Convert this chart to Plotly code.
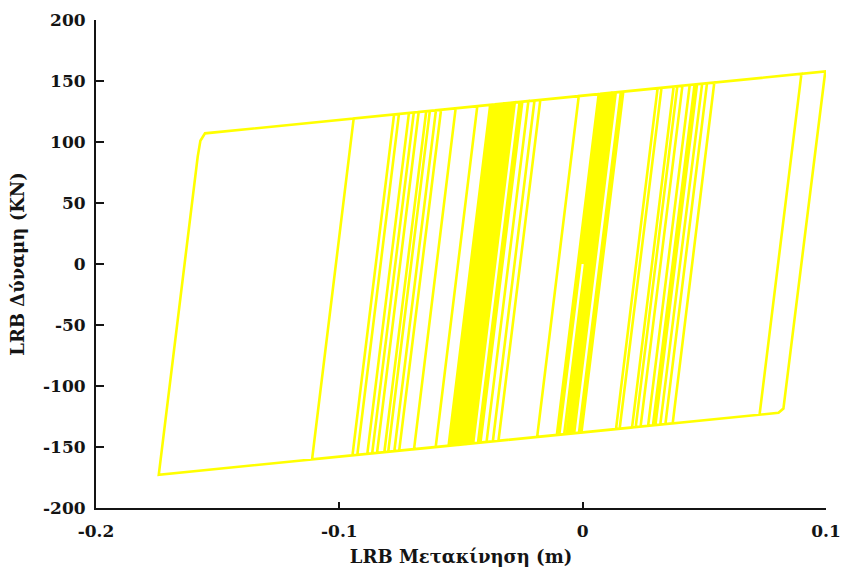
import plotly.graph_objects as go

# Force-displacement path of the lead rubber bearing (turning points and yield knees, in order)
disp_m = [
    0.0, 0.0086,
    0.0126, -0.0045,
    -0.0076, 0.0096,
    0.0157, -0.0015,
    -0.0106, 0.0066,
    0.0116, -0.0055,
    -0.0096, 0.0076,
    0.0308, 0.0137,
    -0.0187, -0.0016,
    0.0541, 0.0370,
    -0.0065, 0.0106,
    0.0997, 0.0834, 0.0825, 0.0805,
    -0.1742, -0.1582, -0.1571, -0.1552,
    0.0899, 0.0727,
    -0.1112, -0.0941,
    0.0491, 0.0319,
    -0.0946, -0.0775,
    0.0440, 0.0269,
    -0.0885, -0.0714,
    0.0470, 0.0299,
    -0.0926, -0.0755,
    0.0410, 0.0238,
    -0.0815, -0.0643,
    0.0374, 0.0203,
    -0.0774, -0.0603,
    0.0511, 0.0340,
    -0.0865, -0.0694,
    0.0389, 0.0218,
    -0.0845, -0.0674,
    0.0324, 0.0152,
    -0.0754, -0.0582,
    0.0460, 0.0289,
    -0.0799, -0.0628,
    0.0167, -0.0005,
    -0.0693, -0.0522,
    0.0136, -0.0035,
    -0.0604, -0.0433,
    -0.0174, -0.0346,
    -0.0551, -0.0380,
    -0.0198, -0.0369,
    -0.0536, -0.0365,
    -0.0223, -0.0395,
    -0.0521, -0.0350,
    -0.0248, -0.0420,
    -0.0506, -0.0334,
    -0.0259, -0.0430,
    -0.0491, -0.0319,
    -0.0279, -0.0450,
    -0.0475, -0.0304,
    -0.0289, -0.0460,
    -0.0543, -0.0372,
    -0.0296, -0.0467,
    -0.0528, -0.0357,
    -0.0311, -0.0483,
    -0.0513, -0.0342,
    -0.0326, -0.0498,
]

force_kn = [
    0.0, 139.7,
    140.5, -138.9,
    -139.5, 139.9,
    141.1, -138.3,
    -140.1, 139.3,
    140.3, -139.1,
    -139.9, 139.5,
    144.1, -135.3,
    -141.7, 137.7,
    148.8, -130.6,
    -139.3, 140.1,
    157.8, -108.0, -118.5, -122.0,
    -172.7, 88.0, 101.0, 107.1,
    155.9, -123.5,
    -160.1, 119.3,
    147.8, -131.6,
    -156.8, 122.6,
    146.7, -132.6,
    -155.6, 123.8,
    147.4, -132.0,
    -156.4, 123.0,
    146.1, -133.3,
    -154.2, 125.2,
    145.4, -134.0,
    -153.4, 126.0,
    148.2, -131.2,
    -155.2, 124.2,
    145.7, -133.7,
    -154.8, 124.6,
    144.4, -135.0,
    -153.0, 126.4,
    147.2, -132.2,
    -153.9, 125.5,
    141.3, -138.1,
    -151.8, 127.6,
    140.7, -138.7,
    -150.0, 129.4,
    134.5, -144.9,
    -149.0, 130.4,
    134.1, -145.3,
    -148.7, 130.7,
    133.6, -145.8,
    -148.4, 131.0,
    133.1, -146.3,
    -148.1, 131.3,
    132.9, -146.5,
    -147.8, 131.6,
    132.5, -146.9,
    -147.5, 131.9,
    132.2, -147.2,
    -148.8, 130.6,
    132.1, -147.3,
    -148.5, 130.9,
    131.8, -147.6,
    -148.2, 131.2,
    131.5, -147.9,
]

x_tick_vals = [-0.2, -0.1, 0, 0.1]
x_tick_text = ["-0.2", "-0.1", "0", "0.1"]
y_tick_vals = [-200, -150, -100, -50, 0, 50, 100, 150, 200]
y_tick_text = ["-200", "-150", "-100", "-50", "0", "50", "100", "150", "200"]

AXIS_COLOR = "#141414"
TICK_FONT = dict(family="DejaVu Serif", size=17, color=AXIS_COLOR, weight="bold")
TITLE_FONT = dict(family="DejaVu Serif", size=18, color=AXIS_COLOR, weight="bold")

fig = go.Figure(
    go.Scatter(
        x=disp_m,
        y=force_kn,
        mode="lines",
        line=dict(color="#ffff00", width=2.6),
        hoverinfo="skip",
    )
)

fig.update_layout(
    width=844,
    height=567,
    margin=dict(l=96, r=18, t=20, b=59),
    paper_bgcolor="white",
    plot_bgcolor="white",
    showlegend=False,
    font=TICK_FONT,
)

fig.update_xaxes(
    range=[-0.2, 0.1],
    automargin=False,
    tickvals=x_tick_vals,
    ticktext=x_tick_text,
    ticks="inside",
    ticklen=6,
    tickwidth=2,
    tickcolor=AXIS_COLOR,
    ticklabelstandoff=7,
    showline=True,
    linewidth=2,
    linecolor=AXIS_COLOR,
    showgrid=False,
    zeroline=False,
    tickfont=TICK_FONT,
    title=dict(text="LRB Μετακίνηση (m)", font=TITLE_FONT, standoff=12),
)

fig.update_yaxes(
    range=[-200, 200],
    automargin=False,
    tickvals=y_tick_vals,
    ticktext=y_tick_text,
    ticks="inside",
    ticklen=8,
    tickwidth=2,
    tickcolor=AXIS_COLOR,
    ticklabelstandoff=5,
    showline=True,
    linewidth=2,
    linecolor=AXIS_COLOR,
    showgrid=False,
    zeroline=False,
    tickfont=TICK_FONT,
    title=dict(text="LRB Δύναμη (KN)", font=TITLE_FONT, standoff=14),
)

fig.write_html("out.html")
